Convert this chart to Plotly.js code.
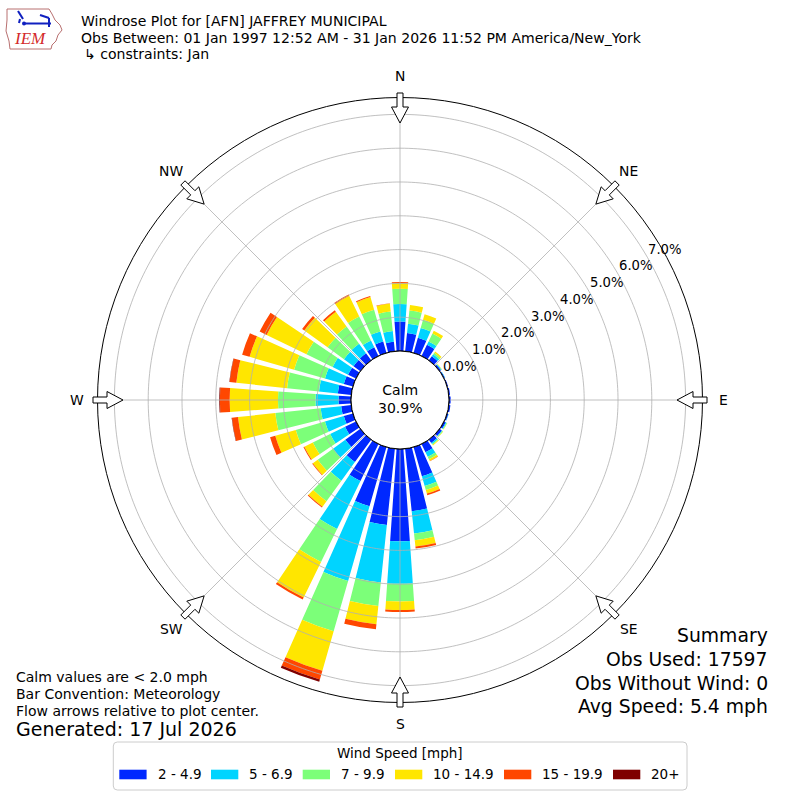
<!DOCTYPE html>
<html>
<head>
<meta charset="utf-8">
<script src="https://cdn.plot.ly/plotly-3.0.1.min.js"></script>
<style>
html,body{margin:0;padding:0;background:#ffffff;}
#chart{width:800px;height:800px;}
</style>
</head>
<body>
<div id="chart"></div>
<script>
// ---------------- DATA ----------------
const directions = [0,10,20,30,40,50,60,70,80,90,100,110,120,130,140,150,160,170,
                    180,190,200,210,220,230,240,250,260,270,280,290,300,310,320,330,340,350];
const speedBins = ['2 - 4.9','5 - 6.9','7 - 9.9','10 - 14.9','15 - 19.9','20+'];
const binColors = ['#0028ff','#00d4ff','#7cff79','#ffe600','#ff4700','#7f0000'];
// percent of observations per direction for each speed bin
const pct_2_4_9 = [0.87,0.54,0.47,0.37,0.15,0.05,0.03,0.03,0.04,0.05,0.05,0.04,0.06,0.08,0.12,0.27,0.90,1.86,
                   2.73,2.27,1.82,1.22,0.82,0.55,0.36,0.28,0.30,0.37,0.40,0.28,0.26,0.25,0.26,0.29,0.35,0.28];
const pct_5_6_9 = [0.52,0.28,0.30,0.11,0.07,0.02,0.01,0.00,0.00,0.00,0.00,0.01,0.02,0.02,0.04,0.15,0.30,0.66,
                   1.26,1.71,2.30,1.58,0.68,0.45,0.49,0.58,0.61,0.68,0.56,0.58,0.51,0.35,0.35,0.22,0.31,0.32];
const pct_7_9_9 = [0.45,0.39,0.25,0.26,0.06,0.01,0.00,0.00,0.00,0.00,0.00,0.00,0.02,0.02,0.03,0.08,0.12,0.20,
                   0.52,0.70,1.55,1.08,0.75,0.56,0.57,0.90,1.35,1.11,0.95,0.95,0.86,0.60,0.63,0.79,0.67,0.58];
const pct_10_14_9 = [0.17,0.17,0.17,0.09,0.04,0.01,0.00,0.00,0.00,0.00,0.00,0.00,0.01,0.01,0.02,0.06,0.11,0.19,
                   0.25,0.54,1.21,1.17,0.20,0.18,0.28,0.63,1.11,1.43,1.51,1.37,1.31,0.85,0.54,0.68,0.39,0.24];
const pct_15_19_9 = [0.03,0.00,0.00,0.00,0.00,0.00,0.00,0.00,0.00,0.00,0.00,0.00,0.00,0.00,0.00,0.01,0.05,0.06,
                   0.06,0.15,0.27,0.07,0.03,0.02,0.03,0.16,0.18,0.29,0.20,0.23,0.23,0.08,0.05,0.04,0.03,0.01];
const pct_20_plus = [0,0,0,0,0,0,0,0,0,0,0,0,0,0,0,0,0,0,
                   0,0,0.07,0,0,0,0,0,0.01,0.02,0.01,0,0,0,0,0,0,0];
const seriesValues = [pct_2_4_9, pct_5_6_9, pct_7_9_9, pct_10_14_9, pct_15_19_9, pct_20_plus];
const radialTicks = [0,1,2,3,4,5,6,7];
const compassLabels = ['N','NE','E','SE','S','SW','W','NW'];
const compassAngles = [0,45,90,135,180,225,270,315];
const calmPct = 30.9;
const titleLines = ['Windrose Plot for [AFN] JAFFREY MUNICIPAL',
                    'Obs Between: 01 Jan 1997 12:52 AM - 31 Jan 2026 11:52 PM America/New_York',
                    '\u21b3 constraints: Jan'];
const footLeft = ['Calm values are < 2.0 mph','Bar Convention: Meteorology','Flow arrows relative to plot center.'];
const generatedText = 'Generated: 17 Jul 2026';
const summaryLines = ['Summary','Obs Used: 17597','Obs Without Wind: 0','Avg Speed: 5.4 mph'];
const legendTitle = 'Wind Speed [mph]';

// ---------------- LAYOUT HELPERS ----------------
const W = 800, H = 800;
const CX = 400, CY = 400;
const R_OUT = 302.5;          // px radius of the polar frame
const R_HOLE = 49;            // px radius of the calm circle
const RMAX = 7.5;             // radial range max (%)
const PX_PER = (R_OUT - R_HOLE) / RMAX;
const X = px => px / W;
const Y = py => 1 - py / H;
const FONT = 'DejaVu Sans, Verdana, sans-serif';

function polarPx(angleDeg, rpx) {
  const a = angleDeg * Math.PI / 180;
  return [CX + rpx * Math.sin(a), CY - rpx * Math.cos(a)];
}

// ---------------- TRACES ----------------
const traces = [];
seriesValues.forEach((vals, i) => {
  traces.push({
    type: 'barpolar',
    r: vals,
    theta: directions,
    width: 8,
    name: speedBins[i],
    marker: {color: binColors[i], line: {width: 0}},
    hoverinfo: 'skip'
  });
});

// grid rings above bars (matplotlib draws grid over patches)
const ringTheta = [];
for (let t = 0; t <= 360; t += 1) ringTheta.push(t);
radialTicks.slice(1).forEach(k => {
  traces.push({
    type: 'scatterpolar', mode: 'lines',
    r: ringTheta.map(() => k), theta: ringTheta,
    line: {color: '#b0b0b0', width: 0.8},
    hoverinfo: 'skip', showlegend: false
  });
});
// spokes
const spokeR = [], spokeT = [];
compassAngles.forEach(a => { spokeR.push(0, RMAX, null); spokeT.push(a, a, null); });
traces.push({
  type: 'scatterpolar', mode: 'lines', r: spokeR, theta: spokeT,
  line: {color: '#b0b0b0', width: 0.8}, hoverinfo: 'skip', showlegend: false, connectgaps: false
});
// calm circle edge
traces.push({
  type: 'scatterpolar', mode: 'lines',
  r: ringTheta.map(() => 0), theta: ringTheta,
  line: {color: '#000000', width: 1}, hoverinfo: 'skip', showlegend: false
});

// ---------------- SHAPES & ANNOTATIONS ----------------
const shapes = [];
const annotations = [];

// flow arrows on the frame
compassAngles.forEach(a => {
  const rad = a * Math.PI / 180;
  const u = [Math.sin(rad), -Math.cos(rad)];
  const v = [Math.cos(rad), Math.sin(rad)];
  const pt = (r, w) => [CX + r * u[0] + w * v[0], CY + r * u[1] + w * v[1]];
  const pts = [pt(307, 3), pt(293, 3), pt(293, 8.5), pt(277, 0), pt(293, -8.5), pt(293, -3), pt(307, -3)];
  const d = pts.map((p, i) => (i ? 'L' : 'M') + X(p[0]).toFixed(5) + ',' + Y(p[1]).toFixed(5)).join(' ') + ' Z';
  shapes.push({type: 'path', xref: 'paper', yref: 'paper', path: d,
               fillcolor: '#ffffff', line: {color: '#000000', width: 1}, layer: 'above'});
});

// compass labels
compassLabels.forEach((lab, i) => {
  const p = polarPx(compassAngles[i], 323.5);
  annotations.push({xref: 'paper', yref: 'paper', x: X(p[0]), y: Y(p[1]), text: lab,
    showarrow: false, xanchor: 'center', yanchor: 'middle', font: {family: FONT, size: 13.9, color: '#000'}});
});

// radial tick labels
radialTicks.forEach(k => {
  const rpx = R_HOLE + k * PX_PER + 19.5;
  const p = polarPx(60.4, rpx);
  annotations.push({xref: 'paper', yref: 'paper', x: X(p[0]), y: Y(p[1]), text: k.toFixed(1) + '%',
    showarrow: false, xanchor: 'center', yanchor: 'middle', font: {family: FONT, size: 13.2, color: '#000'}});
});

// calm text
annotations.push({xref: 'paper', yref: 'paper', x: X(400), y: Y(399), text: 'Calm<br>' + calmPct.toFixed(1) + '%',
  showarrow: false, xanchor: 'center', yanchor: 'middle', align: 'center',
  font: {family: FONT, size: 14, color: '#000'}});

// header
const headerY = [20.5, 37.5, 54];
titleLines.forEach((t, i) => {
  annotations.push({xref: 'paper', yref: 'paper', x: X(i === 2 ? 82 : 79), y: Y(headerY[i]), text: t,
    showarrow: false, xanchor: 'left', yanchor: 'middle', font: {family: FONT, size: 14.05, color: '#000'}});
});

// footnotes
const footY = [677, 694, 711];
footLeft.forEach((t, i) => {
  annotations.push({xref: 'paper', yref: 'paper', x: X(14), y: Y(footY[i]), text: t,
    showarrow: false, xanchor: 'left', yanchor: 'middle', font: {family: FONT, size: 14, color: '#000'}});
});
annotations.push({xref: 'paper', yref: 'paper', x: X(14), y: Y(729), text: generatedText,
  showarrow: false, xanchor: 'left', yanchor: 'middle', font: {family: FONT, size: 19, color: '#000'}});

// summary
const sumY = [635, 659, 683, 706];
summaryLines.forEach((t, i) => {
  annotations.push({xref: 'paper', yref: 'paper', x: X(770), y: Y(sumY[i]), text: t,
    showarrow: false, xanchor: 'right', yanchor: 'middle', font: {family: FONT, size: 18.8, color: '#000'}});
});

// legend box (rounded)
(function() {
  const x0 = 113.3, x1 = 687, y0 = 742, y1 = 790, rr = 4;
  const d = [
    'M', X(x0 + rr), Y(y0), 'L', X(x1 - rr), Y(y0), 'Q', X(x1), Y(y0), X(x1), Y(y0 + rr),
    'L', X(x1), Y(y1 - rr), 'Q', X(x1), Y(y1), X(x1 - rr), Y(y1),
    'L', X(x0 + rr), Y(y1), 'Q', X(x0), Y(y1), X(x0), Y(y1 - rr),
    'L', X(x0), Y(y0 + rr), 'Q', X(x0), Y(y0), X(x0 + rr), Y(y0), 'Z'
  ].map(v => typeof v === 'number' ? v.toFixed(5) : v).join(' ');
  shapes.push({type: 'path', xref: 'paper', yref: 'paper', path: d,
    fillcolor: 'rgba(255,255,255,0.8)', line: {color: '#cccccc', width: 1}, layer: 'above'});
})();
annotations.push({xref: 'paper', yref: 'paper', x: X(400), y: Y(753), text: legendTitle,
  showarrow: false, xanchor: 'center', yanchor: 'middle', font: {family: FONT, size: 13.5, color: '#000'}});
const legendPatchX = [119.3, 211, 302.7, 395, 504, 613];
speedBins.forEach((lab, i) => {
  const px = legendPatchX[i];
  shapes.push({type: 'rect', xref: 'paper', yref: 'paper', x0: X(px), x1: X(px + 27.3), y0: Y(779.3), y1: Y(769.7),
    fillcolor: binColors[i], line: {width: 0}, layer: 'above'});
  annotations.push({xref: 'paper', yref: 'paper', x: X(px + 36.2), y: Y(774.3), text: lab,
    showarrow: false, xanchor: 'left', yanchor: 'middle', font: {family: FONT, size: 13.5, color: '#000'}});
});

// IEM logo (decorative)
(function() {
  const pts = [[7,9],[49,9],[52,14],[55,20],[60,25],[62,30],[58,35],[56,41],[52,45],[51,49],[10,49],[9,41],[6,31],[7,20]];
  const d = pts.map((p, i) => (i ? 'L' : 'M') + X(p[0]).toFixed(5) + ',' + Y(p[1]).toFixed(5)).join(' ') + ' Z';
  shapes.push({type: 'path', xref: 'paper', yref: 'paper', path: d, line: {color: '#b87070', width: 1}, layer: 'above'});
  const blue = [
    [[18,11],[23,19]], [[24,23.5],[51,23.5]], [[40,15],[49,18]], [[49,18],[49,27]], [[20,19],[19,23]]
  ];
  blue.forEach(seg => {
    shapes.push({type: 'line', xref: 'paper', yref: 'paper', x0: X(seg[0][0]), y0: Y(seg[0][1]), x1: X(seg[1][0]), y1: Y(seg[1][1]),
      line: {color: '#1020c0', width: 2}, layer: 'above'});
  });
  shapes.push({type: 'circle', xref: 'paper', yref: 'paper', x0: X(22), x1: X(26), y0: Y(21.5), y1: Y(25.5),
    fillcolor: '#1020c0', line: {width: 0}, layer: 'above'});
  annotations.push({xref: 'paper', yref: 'paper', x: X(30), y: Y(38.5), text: '<i>IEM</i>',
    showarrow: false, xanchor: 'center', yanchor: 'middle',
    font: {family: 'Liberation Serif, serif', size: 17, color: '#d42a2a'}});
})();

const layout = {
  width: W, height: H,
  margin: {l: 0, r: 0, t: 0, b: 0},
  paper_bgcolor: '#ffffff',
  showlegend: false,
  font: {family: FONT, size: 13.9, color: '#000'},
  polar: {
    domain: {x: [X(CX - R_OUT), X(CX + R_OUT)], y: [1 - (CY + R_OUT) / H, 1 - (CY - R_OUT) / H]},
    hole: R_HOLE / R_OUT,
    bgcolor: '#ffffff',
    barmode: 'stack',
    bargap: 0,
    radialaxis: {range: [0, RMAX], showgrid: false, showticklabels: false, ticks: '', showline: false},
    angularaxis: {rotation: 90, direction: 'clockwise', showgrid: false, showticklabels: false, ticks: '',
                  showline: true, linecolor: '#000000', linewidth: 1}
  },
  shapes: shapes,
  annotations: annotations
};

Plotly.newPlot('chart', traces, layout, {staticPlot: true, displayModeBar: false});
</script>
</body>
</html>
